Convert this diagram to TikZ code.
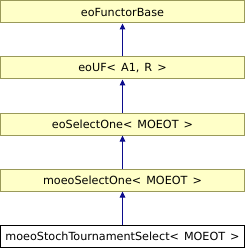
\documentclass[tikz,border=0pt]{standalone}
\usepackage{fontspec}
\setmainfont{DejaVu Sans}
\usetikzlibrary{arrows.meta}
\definecolor{boxfill}{HTML}{FFFFC8}
\definecolor{boxline}{HTML}{9A9A5A}
\definecolor{arrowcol}{HTML}{0C0C8C}
\newcommand{\clsfont}{\fontsize{11.2}{13}\selectfont\spaceskip=5pt plus 1pt\relax}
\tikzset{
  x=1pt,y=-1pt,
  cls/.style={draw=boxline,fill=boxfill,line width=1pt,minimum width=244pt,minimum height=22pt,inner sep=0pt,font=\clsfont,anchor=north},
  curcls/.style={cls,draw=black,fill=white},
  inh/.style={draw=arrowcol,line width=1pt,-{Triangle[length=6pt,width=5.5pt]}}
}
\begin{document}
\begin{tikzpicture}
\useasboundingbox (0,0) rectangle (245,248);
\node[cls] (a) at (122.5,0.5) {eoFunctorBase};
\node[cls] (b) at (122.5,56.5) {eoUF< A1, R >};
\node[cls] (c) at (122.5,112.5) {eoSelectOne< MOEOT >};
\node[cls] (d) at (122.5,168.5) {moeoSelectOne< MOEOT >};
\node[curcls] (e) at (122.5,224.5) {moeoStochTournamentSelect< MOEOT >};
\draw[inh] (b.north) -- (a.south);
\draw[inh] (c.north) -- (b.south);
\draw[inh] (d.north) -- (c.south);
\draw[inh] (e.north) -- (d.south);
\end{tikzpicture}
\end{document}
